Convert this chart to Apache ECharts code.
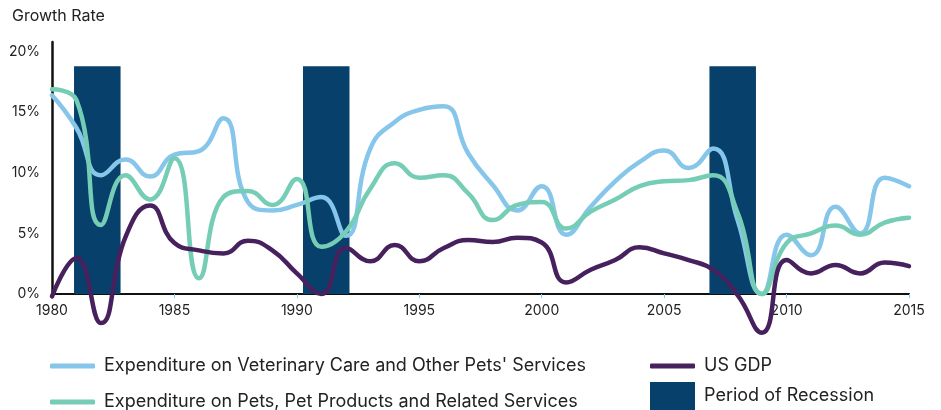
<!DOCTYPE html>
<html>
<head>
<meta charset="utf-8">
<script src="https://cdn.jsdelivr.net/npm/echarts@6/dist/echarts.min.js"></script>
<style>
html,body{margin:0;padding:0;background:#fff;}
#chart{width:941px;height:410px;}
</style>
</head>
<body>
<div id="chart"></div>
<script>
const years = [1980,1981,1982,1983,1984,1985,1986,1987,1988,1989,1990,1991,1992,1993,1994,1995,1996,1997,1998,1999,2000,2001,2002,2003,2004,2005,2006,2007,2008,2009,2010,2011,2012,2013,2014,2015];
const vetServices = [16.4,13.7,9.8,11.1,9.7,11.5,11.8,14.5,7.6,6.9,7.35,8.0,4.8,12.0,14.2,15.2,15.5,11.6,9.0,6.9,8.9,4.9,7.2,9.3,10.9,11.85,10.4,12.0,6.1,0,4.9,3.2,7.2,5.0,9.6,8.9];
const petProducts = [16.9,16.0,5.7,9.8,7.8,11.2,1.3,8.0,8.5,7.35,9.5,3.9,5.15,8.7,10.8,9.6,9.8,8.3,6.1,7.35,7.6,5.4,6.8,7.8,8.9,9.3,9.4,9.8,6.7,0,4.2,5.0,5.65,4.9,5.9,6.3];
const usGdp = [-0.2,2.95,-2.4,4.7,7.3,4.2,3.6,3.35,4.4,3.6,1.7,0.0,3.8,2.7,4.05,2.7,3.8,4.45,4.3,4.65,4.25,0.95,2.0,2.8,3.85,3.35,2.8,2.0,-0.1,-3.2,2.8,1.7,2.4,1.7,2.6,2.3];
const recessionStart = [1980.9, 1990.25, 2006.85];
const recessionEnd = [1982.8, 1992.15, 2008.75];
const recessionTop = [18.8, 18.8, 18.8];
const yTicks = [0, 5, 10, 15, 20];
const seriesNames = ["Expenditure on Veterinary Care and Other Pets' Services", "Expenditure on Pets, Pet Products and Related Services", "US GDP", "Period of Recession"];

const FONT = 'Inter, "Noto Sans", sans-serif';
const C_VET = '#85C6EA', C_PET = '#76CDB6', C_GDP = '#46215E', C_REC = '#07406A';

const chart = echarts.init(document.getElementById('chart'), null, {renderer: 'canvas'});
const pairs = (arr) => years.map((y, i) => [y, arr[i]]);
const legendBase = {
  orient: 'vertical', padding: 0, selectedMode: false, itemGap: 0,
  itemWidth: 45, itemHeight: 5,
  textStyle: {fontFamily: FONT, fontSize: 18, color: '#222', padding: [0, 0, 0, 4]}
};
const option = {
  animation: false,
  textStyle: {fontFamily: FONT},
  title: {text: 'Growth Rate', left: 12, top: 8, padding: 0,
    textStyle: {fontFamily: FONT, fontSize: 16, fontWeight: 'normal', color: '#222'}},
  grid: {left: 52, right: 32, top: 42, bottom: 116, containLabel: false},
  legend: [
    Object.assign({}, legendBase, {left: 50, top: 357, data: [{name: seriesNames[0], icon: 'roundRect'}]}),
    Object.assign({}, legendBase, {left: 50, top: 393, data: [{name: seriesNames[1], icon: 'roundRect'}]}),
    Object.assign({}, legendBase, {left: 650, top: 357, data: [{name: seriesNames[2], icon: 'roundRect'}]}),
    Object.assign({}, legendBase, {left: 650, top: 382, itemHeight: 28,
      textStyle: Object.assign({}, legendBase.textStyle, {padding: [6, 0, 0, 4]}),
      data: [{name: seriesNames[3], icon: 'rect'}]})
  ],
  xAxis: {
    type: 'value', min: 1980, max: 2015, interval: 5,
    axisLine: {show: true, onZero: false, lineStyle: {color: '#111', width: 2}},
    axisTick: {show: true, length: 4, lineStyle: {color: C_VET, width: 1}},
    splitLine: {show: false},
    axisLabel: {fontFamily: FONT, fontSize: 14, color: '#222', margin: 10, formatter: v => String(v)}
  },
  yAxis: {
    type: 'value', min: 0, max: 20.8, interval: 5,
    axisLine: {show: true, lineStyle: {color: '#111', width: 2.5}},
    axisTick: {show: false},
    splitLine: {show: false},
    axisLabel: {fontFamily: FONT, fontSize: 14, color: '#222', margin: 12, showMaxLabel: false,
      formatter: v => yTicks.indexOf(v) >= 0 ? v + '%' : ''}
  },
  series: [
    {
      name: seriesNames[3], type: 'custom', z: 1,
      itemStyle: {color: C_REC},
      encode: {x: [0, 1], y: 2},
      data: recessionStart.map((s, i) => [s, recessionEnd[i], recessionTop[i]]),
      renderItem: (params, api) => {
        const p0 = api.coord([api.value(0), api.value(2)]);
        const p1 = api.coord([api.value(1), 0]);
        return {type: 'rect', shape: {x: p0[0], y: p0[1], width: p1[0] - p0[0], height: p1[1] - p0[1]},
          style: {fill: C_REC}};
      }
    },
    {name: seriesNames[0], type: 'line', smooth: 0.5, showSymbol: false, clip: false, z: 3,
      itemStyle: {color: C_VET}, lineStyle: {color: C_VET, width: 4.5, cap: 'round'}, data: pairs(vetServices)},
    {name: seriesNames[1], type: 'line', smooth: 0.5, showSymbol: false, clip: false, z: 4,
      itemStyle: {color: C_PET}, lineStyle: {color: C_PET, width: 4.5, cap: 'round'}, data: pairs(petProducts)},
    {name: seriesNames[2], type: 'line', smooth: 0.5, showSymbol: false, clip: false, z: 5,
      itemStyle: {color: C_GDP}, lineStyle: {color: C_GDP, width: 4.5, cap: 'round'}, data: pairs(usGdp)}
  ]
};
chart.setOption(option);
</script>
</body>
</html>
